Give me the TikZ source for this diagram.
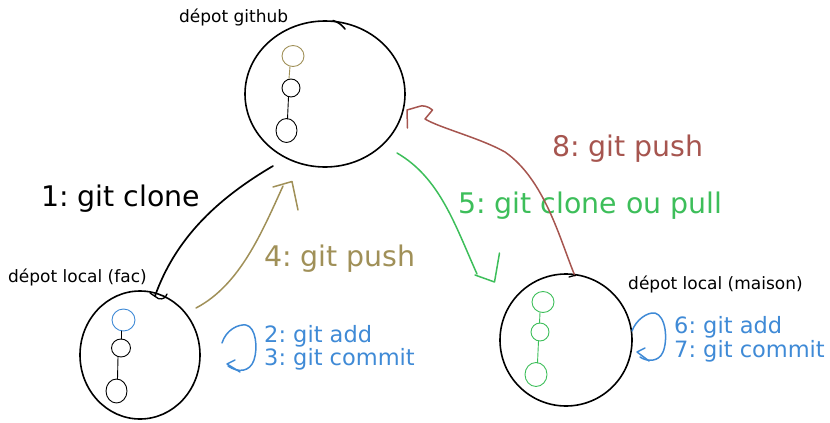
\documentclass[tikz,border=0pt]{standalone}
\usepackage{fontspec}
\setmainfont{DejaVu Sans}
\frenchspacing
\definecolor{cpush}{HTML}{A09058}
\definecolor{cblue}{HTML}{3F8AD6}
\definecolor{cgreen}{HTML}{3DBE5A}
\definecolor{cred}{HTML}{A6554F}
\begin{document}
\begin{tikzpicture}[x=1pt,y=-1pt,line cap=round,line join=round,
  repo/.style={draw=black,line width=1.6pt},
  blob/.style={line width=0.9pt},
  lab/.style={font=\fontsize{17}{20}\selectfont,inner sep=0,anchor=base west},
  big/.style={font=\fontsize{28.4}{32}\selectfont,inner sep=0,anchor=base west},
  cmd/.style={font=\fontsize{22.5}{23.5}\selectfont,inner sep=0,anchor=base west,align=left,text=cblue},
  arr/.style={line width=1.5pt}]
\useasboundingbox (0,0) rectangle (830,423);

% repositories
\coordinate (gh) at (325,94);
\coordinate (fac) at (140,355);
\coordinate (mai) at (566,340);
\draw[repo] (gh) ellipse [x radius=80,y radius=73];
\draw[repo] (333,20.5) .. controls (338,22) and (342,25) .. (345,29);
\draw[repo] (fac) ellipse [x radius=60,y radius=64];
\draw[repo] (mai) ellipse [x radius=66,y radius=66];

% commit chains: github
\draw[blob,cpush] (293,56) ellipse [x radius=11,y radius=10.5];
\draw[blob,cpush] (290,66.5) -- (289,78.5);
\draw[blob] (291,88) ellipse [x radius=9,y radius=9];
\draw[blob] (288.5,97) -- (287.5,119);
\draw[blob] (286.5,130.5) ellipse [x radius=10.5,y radius=12];
% fac
\draw[blob,cblue] (123.5,320) ellipse [x radius=11.5,y radius=11];
\draw[blob] (121,331) -- (121,339);
\draw[blob] (121,348) ellipse [x radius=9.5,y radius=9];
\draw[blob] (118,357) -- (117.5,379);
\draw[blob] (116.5,391) ellipse [x radius=10.5,y radius=12];
% maison
\draw[blob,cgreen] (543,302) ellipse [x radius=11,y radius=10.5];
\draw[blob,cgreen] (540,312.5) -- (539.5,323);
\draw[blob,cgreen] (540,332) ellipse [x radius=9,y radius=9];
\draw[blob,cgreen] (538.5,341) -- (537.5,363);
\draw[blob,cgreen] (536,374.5) ellipse [x radius=11,y radius=12];

% labels
\node[lab] (lgh) at (179,23) {dépot github};
\node[lab] (lfac) at (8,282) {dépot local (fac)};
\node[lab] (lmai) at (628,289.5) {dépot local (maison)};
\node[big] (lclone) at (41,206) {1: git clone};
\node[big,text=cpush] (lpush) at (264,266) {4: git push};
\node[big,text=cgreen] (lpull) at (458,213.5) {5: git clone ou pull};
\node[big,text=cred] (lpush2) at (552,156) {8: git push};
\node[cmd] (lcmd1) at (264,365.5) {2: git add\\3: git commit};
\node[cmd] (lcmd2) at (674,357) {6: git add\\7: git commit};

% 1: git clone (black)
\coordinate (c1s) at (273,166);
\coordinate (c1e) at (155,296);
\draw[arr,line width=1.7pt] (c1s) .. controls (215,200) and (175,240) .. (c1e);
\draw[arr,line width=1.3pt] (150,293) -- (156,297) .. controls (158,300) and (166,300) .. (167,294);

% 4: git push (olive)
\coordinate (c4s) at (196,308);
\coordinate (c4e) at (283,186);
\draw[arr,cpush] (c4s) .. controls (240,285) and (262,232) .. (c4e);
\draw[arr,cpush] (273,187) -- (292,181.5) -- (298,210);

% 5: git clone ou pull (green)
\coordinate (c5s) at (397,153);
\coordinate (c5e) at (477,274);
\draw[arr,cgreen] (c5s) .. controls (440,178) and (455,225) .. (c5e);
\draw[arr,cgreen] (475,275) -- (494.5,282) -- (499.5,253);

% 8: git push (red)
\coordinate (c8s) at (575,276);
\coordinate (c8e) at (425,119);
\draw[arr,cred] (c8s) .. controls (560,240) and (545,180) .. (505,152)
  .. controls (480,138) and (440,128) .. (c8e)
  -- (432.5,110) .. controls (428,106) and (422,105) .. (419,106.5)
  -- (407,110) -- (407.5,128);
\draw[arr,black,line width=1.3pt] (569,277) -- (576,275);

% loops 2/3 (fac)
\coordinate (l1s) at (222,343);
\draw[arr,cblue] (l1s) .. controls (226,330) and (238,324) .. (246,325)
  .. controls (256,327) and (258,348) .. (254,360)
  .. controls (250,372) and (238,373) .. (228,366);
\draw[arr,cblue] (235,360) -- (227,364) -- (240,372);

% loops 6/7 (maison)
\coordinate (l2s) at (632,331);
\draw[arr,cblue] (l2s) .. controls (636,320) and (647,312) .. (655,313)
  .. controls (666,316) and (668,340) .. (663,352)
  .. controls (659,362) and (647,362) .. (640,357);
\draw[arr,cblue] (645,348) -- (637,352) -- (649,361);
\end{tikzpicture}
\end{document}
